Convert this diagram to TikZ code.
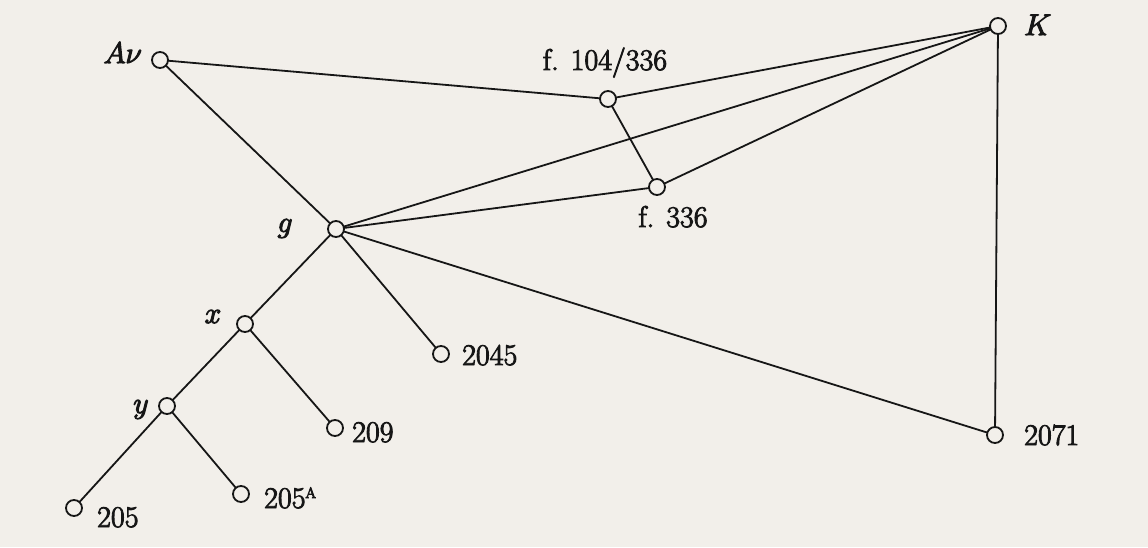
\documentclass[tikz,border=0pt]{standalone}
\usepackage{graphicx}
\usepackage{xcolor}
\definecolor{paper}{RGB}{242,239,234}
\definecolor{ink}{RGB}{22,22,22}
% slightly heavier type: fill and stroke the glyph outlines
\newcommand\inked[1]{\special{pdf:literal direct 2 Tr 0.9 w}#1\special{pdf:literal direct 0 Tr}}
% italic sigla, enlarged past the largest math size
\newcommand\sig[1]{\scalebox{1.2}{\fontsize{24.88}{30}\selectfont$#1$}}
\begin{document}
\begin{tikzpicture}[x=1pt,y=-1pt,
  vertex/.style={circle,draw=ink,line width=1.8pt,fill=paper,minimum size=16pt,inner sep=0pt},
  edge/.style={draw=ink,line width=1.8pt},
  lbl/.style={text=ink,font=\fontsize{30}{36}\selectfont,inner sep=0pt}]
\fill[paper] (0,0) rectangle (1148,547);
\useasboundingbox (0,0) rectangle (1148,547);

% stemma vertices
\coordinate (Av)    at (160,60);
\coordinate (f104)  at (608,99);
\coordinate (K)     at (998,26);
\coordinate (f336)  at (657,187);
\coordinate (g)     at (336,229);
\coordinate (x)     at (245,324);
\coordinate (m2045) at (441,354);
\coordinate (y)     at (167,406);
\coordinate (m209)  at (335,428);
\coordinate (m205)  at (74,508);
\coordinate (m205A) at (241,494);
\coordinate (m2071) at (995,435);

% filiation lines
\path[edge] (Av) -- (f104);
\path[edge] (Av) -- (g);
\path[edge] (f104) -- (K);
\path[edge] (f104) -- (f336);
\path[edge] (f336) -- (K);
\path[edge] (g) -- (K);
\path[edge] (g) -- (f336);
\path[edge] (g) -- (m2071);
\path[edge] (K) -- (m2071);
\path[edge] (g) -- (x);
\path[edge] (g) -- (m2045);
\path[edge] (x) -- (y);
\path[edge] (x) -- (m209);
\path[edge] (y) -- (m205);
\path[edge] (y) -- (m205A);

% manuscript circles over the line ends
\foreach \v in {Av,f104,K,f336,g,x,m2045,y,m209,m205,m205A,m2071}
  \node[vertex] (c\v) at (\v) {};

% sigla
\node[lbl,anchor=base east] (tAv) at (142,63) {\inked{\sig{A\nu}}};
\node[lbl,anchor=base] (tf104) at (605,70) {\inked{f. 104/336}};
\node[lbl,anchor=base west] (tK) at (1024,35) {\inked{\sig{K}}};
\node[lbl,anchor=base] (tf336) at (673,227) {\inked{f. 336}};
\node[lbl,anchor=base] (tg) at (285,232) {\inked{\sig{g}}};
\node[lbl,anchor=base] (tx) at (213,323) {\inked{\sig{x}}};
\node[lbl,anchor=base] (ty) at (141,413) {\inked{\sig{y}}};
\node[lbl,anchor=base west] (t2045) at (462,365) {\inked{2045}};
\node[lbl,anchor=base west] (t209) at (352,442) {\inked{209}};
\node[lbl,anchor=base west] (t205) at (97,527) {\inked{205}};
\node[lbl,anchor=base west] (t205A) at (264,508) {\inked{205\raisebox{10pt}{\fontsize{15}{18}\selectfont A}}};
\node[lbl,anchor=base west] (t2071) at (1024,445) {\inked{2071}};
\end{tikzpicture}
\end{document}
